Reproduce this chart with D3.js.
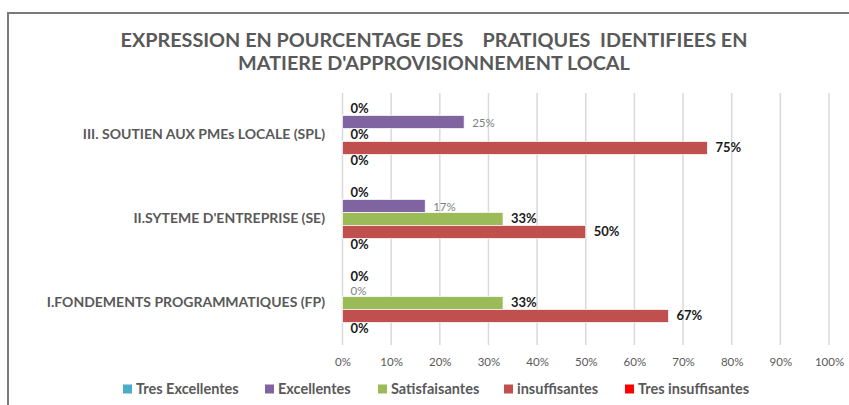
<!DOCTYPE html>
<html><head><meta charset="utf-8">
<script src="https://cdn.jsdelivr.net/npm/d3@7"></script>
<style>
html,body{margin:0;padding:0;background:#fff;}
svg text{font-family:Lato,"Open Sans",sans-serif;}
</style></head>
<body><svg id="c" width="849" height="405"></svg>
<script>
const titleLines = ["EXPRESSION EN POURCENTAGE DES    PRATIQUES  IDENTIFIEES EN", "MATIERE D'APPROVISIONNEMENT LOCAL"];
const categories = ["III. SOUTIEN AUX PMEs LOCALE (SPL)", "II.SYTEME D'ENTREPRISE (SE)", "I.FONDEMENTS PROGRAMMATIQUES (FP)"];
const seriesNames = ["Tres Excellentes", "Excellentes", "Satisfaisantes", "insuffisantes", "Tres insuffisantes"];
const seriesColors = ["#4BACC6", "#8064A2", "#9BBB59", "#C0504D", "#FF0000"];
const tresExcellentes = [0, 0, 0];
const excellentes = [25, 17, 0];
const satisfaisantes = [0, 33, 33];
const insuffisantes = [75, 50, 67];
const tresInsuffisantes = [0, 0, 0];
const xTicks = [0, 10, 20, 30, 40, 50, 60, 70, 80, 90, 100];

const seriesValues = [tresExcellentes, excellentes, satisfaisantes, insuffisantes, tresInsuffisantes];
const svg = d3.select("#c");

// frame
svg.append("path").attr("d", "M8,420 L8,13 L870,13").attr("fill", "none")
  .attr("stroke", "#7a7a7a").attr("stroke-width", 2);

// title
svg.append("g").selectAll("text").data(titleLines).join("text")
  .attr("x", 434).attr("y", (d, i) => 47 + i * 23)
  .attr("text-anchor", "middle").attr("font-size", 19.8).attr("font-weight", "bold")
  .attr("fill", "#595959").style("white-space", "pre").attr("xml:space", "preserve")
  .text(d => d);

const x = d3.scaleLinear().domain([0, 100]).range([342.5, 829]);
const y = d3.scaleBand().domain(categories).range([93, 345]).padding(0);
const ys = d3.scaleBand().domain(seriesNames).range([9.5, y.bandwidth() - 9.5]).padding(0);

// grid
svg.append("g").selectAll("line").data(xTicks).join("line")
  .attr("x1", d => x(d)).attr("x2", d => x(d)).attr("y1", 93).attr("y2", 345)
  .attr("stroke", "#d9d9d9").attr("stroke-width", 1.5);

// x axis labels
const xAxis = d3.axisBottom(x).tickValues(xTicks).tickFormat(d => d + "%").tickSize(0).tickPadding(0);
const gx = svg.append("g").attr("transform", "translate(0,358)").call(xAxis);
gx.select(".domain").remove();
gx.selectAll("text").attr("font-family", "Lato").attr("font-size", 11.5).attr("fill", "#595959");

// category labels
const yAxis = d3.axisLeft(y).tickSize(0).tickPadding(0);
const gy = svg.append("g").attr("transform", "translate(325,0)").call(yAxis);
gy.select(".domain").remove();
gy.selectAll("text").attr("font-family", "Lato").attr("font-size", 14).attr("font-weight", "bold").attr("fill", "#595959");

// bars
const data = [];
categories.forEach((c, ci) => seriesNames.forEach((s, si) => data.push({c, s, si, v: seriesValues[si][ci]})));
const g = svg.append("g");
g.selectAll("rect").data(data).join("rect")
  .attr("x", x(0)).attr("y", d => y(d.c) + ys(d.s))
  .attr("width", d => x(d.v) - x(0)).attr("height", ys.bandwidth())
  .attr("fill", d => seriesColors[d.si])
  .attr("stroke", d => d.v > 0 ? "#fff" : "none").attr("stroke-width", 0.7);

g.selectAll("text").data(data).join("text")
  .attr("x", d => x(d.v) + 8).attr("y", d => y(d.c) + ys(d.s) + ys.bandwidth() / 2)
  .attr("dy", d => d.si === 1 ? "0.45em" : "0.3em")
  .attr("font-size", d => d.si === 1 ? 11.5 : 13)
  .attr("font-weight", d => d.si === 1 ? "normal" : "bold")
  .attr("fill", d => d.si === 1 ? "#7f7f7f" : "#1a1a1a")
  .text(d => d.v + "%");

// legend
const legendX = [123, 265, 378, 504, 625];
const lg = svg.append("g").selectAll("g").data(seriesNames).join("g")
  .attr("transform", (d, i) => `translate(${legendX[i]},389)`);
lg.append("rect").attr("x", 0).attr("y", -4.5).attr("width", 9).attr("height", 9)
  .attr("fill", (d, i) => seriesColors[i]);
lg.append("text").attr("x", 13).attr("dy", "0.36em").attr("font-size", 14.5)
  .attr("font-weight", "bold").attr("fill", "#595959").text(d => d);
</script></body></html>
